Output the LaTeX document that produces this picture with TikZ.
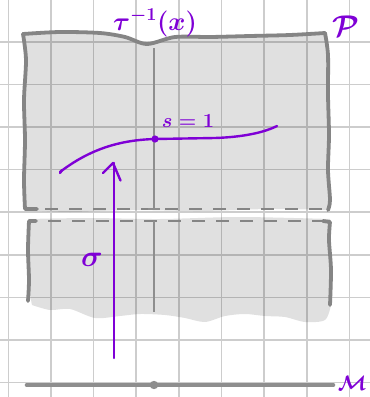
\RequirePackage{fix-cm}
\documentclass[tikz,border=0pt]{standalone}
\usepackage{amsmath}
\begin{document}
\begin{tikzpicture}[x=1pt,y=-1pt,
  gridline/.style={draw=gridc,line width=1.6pt},
  edge/.style={draw=edgec,line width=3.8pt,line cap=round,line join=round},
  dashedge/.style={draw=edgec,line width=2.8pt,dash pattern=on 13pt off 11pt},
  axisline/.style={draw=axisc,line width=1.8pt},
  ink/.style={draw=violetc,line width=2.4pt,line cap=round,line join=round},
  lab/.style={text=violetc,inner sep=0pt}]
\definecolor{gridc}{HTML}{CDCDCD}
\definecolor{edgec}{HTML}{858585}
\definecolor{axisc}{HTML}{8E8E8E}
\definecolor{violetc}{HTML}{7F00D6}
\useasboundingbox (0,0) rectangle (370,397);
\fill[white] (0,0) rectangle (370,397);
% grid
\foreach \i in {0,...,8} {
  \draw[gridline] ({8.3+42.65*\i},0) -- ({8.3+42.65*\i},397);
}
\foreach \j in {1,...,9} {
  \draw[gridline] (0,{-0.9+42.6*\j}) -- (370,{-0.9+42.6*\j});
}
% upper fill
\fill[black,fill opacity=0.12]
  plot[smooth] coordinates {(23,34) (60,32) (100,33) (125,37) (147,44) (175,37) (210,37) (250,36) (290,35) (325,33)}
  -- plot[smooth] coordinates {(325,33) (328,55) (328,95) (329,135) (328,170) (330,200) (329,210)}
  -- plot[smooth] coordinates {(329,210) (270,209) (200,211) (130,210) (70,212) (25,210)}
  -- plot[smooth] coordinates {(25,210) (24,180) (25,140) (24,100) (26,60) (23,34)} -- cycle;
% lower fill
\fill[black,fill opacity=0.12]
  plot[smooth] coordinates {(28,219) (90,218) (160,219) (240,217) (330,219)}
  -- plot[smooth] coordinates {(330,219) (331,240) (329,270) (331,305)}
  -- plot[smooth] coordinates {(331,305) (325,320) (305,322) (285,317) (265,316) (245,314) (225,316) (205,322) (185,318) (165,315) (140,314) (120,316) (95,318) (70,309) (50,310) (32,305)}
  -- plot[smooth] coordinates {(32,305) (28,280) (29,250) (28,219)} -- cycle;
% boundaries upper
\draw[edge] plot[smooth] coordinates {(23,34) (60,32) (100,33) (125,37) (147,44) (175,37) (210,37) (250,36) (290,35) (325,33)};
\draw[edge] plot[smooth] coordinates {(325,33) (328,55) (328,95) (329,135) (328,170) (330,200) (328,210)};
\draw[edge] plot[smooth] coordinates {(23,34) (26,60) (24,100) (25,140) (24,180) (25,209)} -- (37,209);
\draw[dashedge] (45,209) -- (322,209);
% boundaries lower
\draw[edge] (36,221) -- (29,221) -- plot[smooth] coordinates {(29,221) (28,250) (29,280) (28,301)};
\draw[dashedge] (48,221) -- (326,221);
\draw[edge] (323,221) -- (330,222) -- plot[smooth] coordinates {(330,222) (329,240) (331,270) (330,305)};
% vertical fibre line
\draw[axisline] (154,48) -- (154,209);
\draw[axisline] (148,209) -- (160,209);
\draw[axisline] (154,221) -- (154,312);
% base line
\draw[draw=axisc,line width=4.6pt,line cap=round] (27,385) -- (333,385);
\fill[axisc] (154,385) circle (4.2);
% violet curve
\draw[ink] (62,170) -- (60,173);
\draw[ink] (60,172) .. controls (90,149) and (120,140) .. (155,139) -- (215,138) .. controls (245,137) and (265,132) .. (277,126);
\fill[violetc] (155,139) circle (3.6);
% arrow
\draw[ink] (114,358) -- (114,163);
\draw[ink] (103,173) -- (113,163) -- (120.5,180.5);
% labels
\node[lab,font=\fontsize{26}{26}\selectfont\boldmath] (tau) at (155,23) {$\tau^{-1}(x)$};
\node[lab,font=\fontsize{30}{30}\selectfont\boldmath] (P) at (346,26) {$\mathcal{P}$};
\node[lab,font=\fontsize{20}{20}\selectfont\boldmath] (s) at (188,121) {$s = 1$};
\node[lab,font=\fontsize{30}{30}\selectfont\boldmath] (sig) at (92,260) {$\sigma$};
\node[lab,font=\fontsize{21}{21}\selectfont\boldmath,anchor=east] (M) at (367,383) {$\mathcal{M}$};
\end{tikzpicture}
\end{document}
